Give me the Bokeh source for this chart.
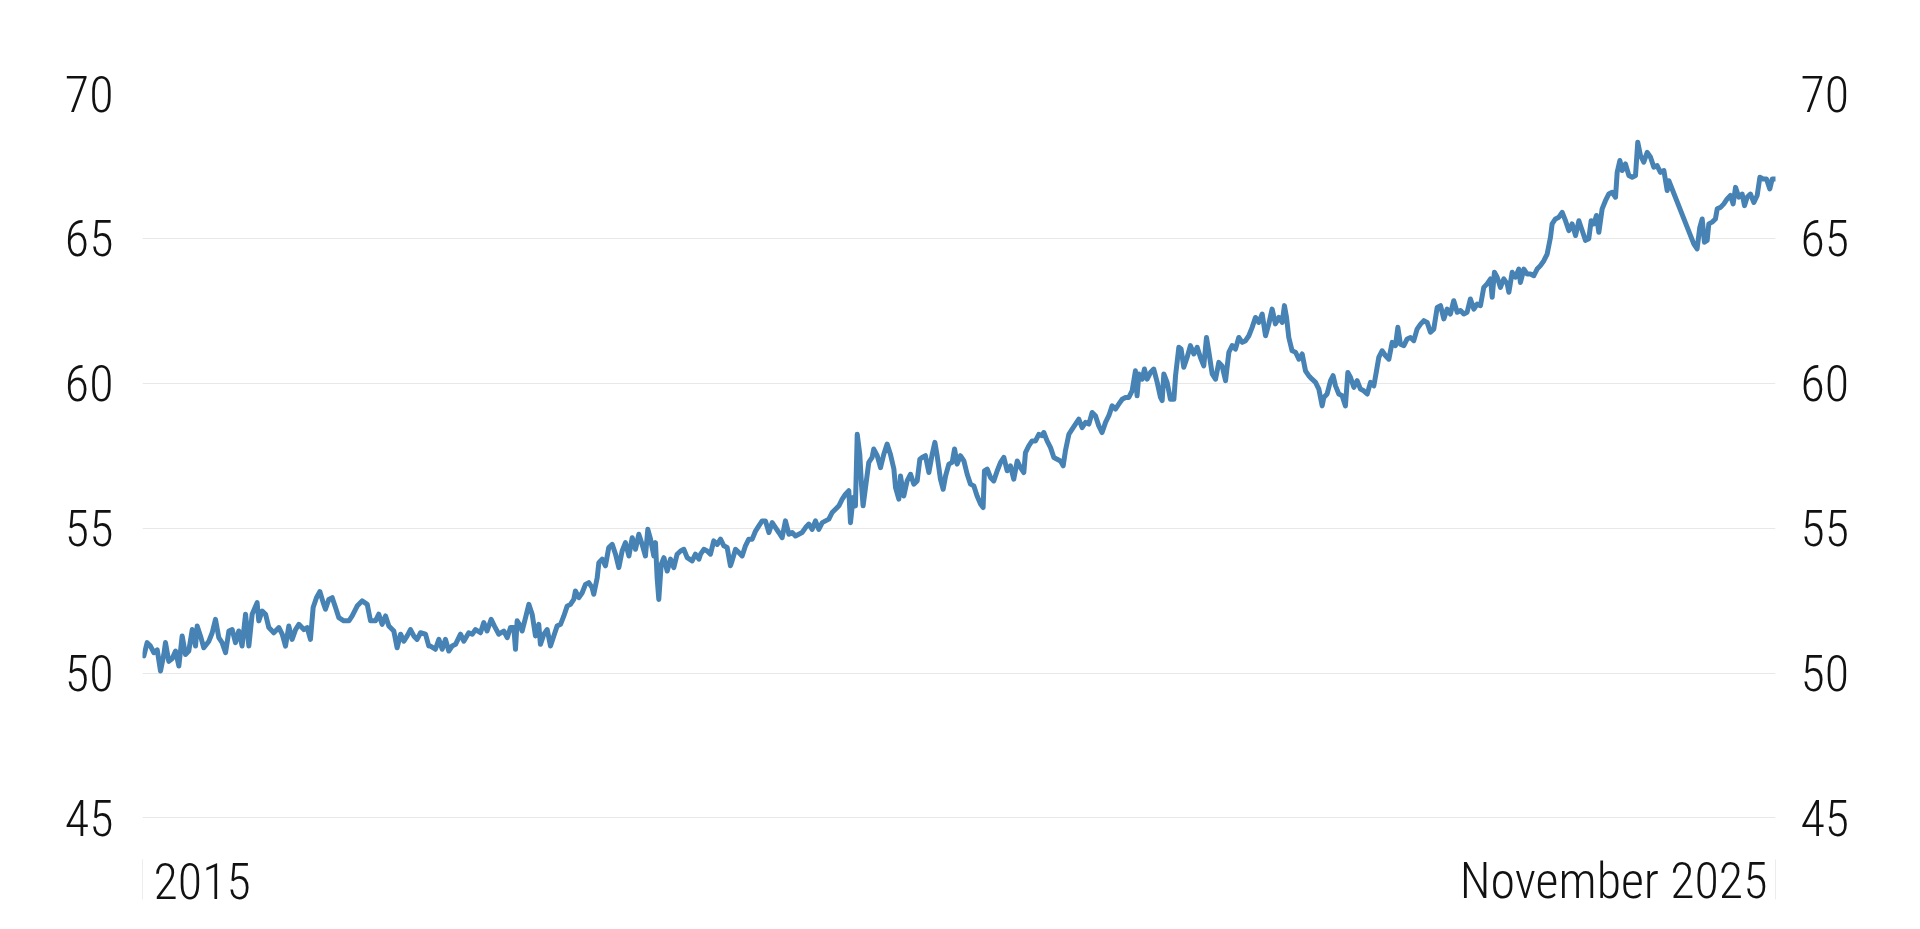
from bokeh.plotting import figure
from bokeh.models import Range1d, LinearAxis, FixedTicker
from bokeh.embed import file_html
from bokeh.resources import INLINE
from bokeh.core.properties import value

# decimal year of each reading and the index value
years = [
    2015.009, 2015.031, 2015.053, 2015.076, 2015.098, 2015.120, 2015.142, 2015.153, 2015.175, 2015.198,
    2015.220, 2015.242, 2015.264, 2015.286, 2015.308, 2015.331, 2015.353, 2015.364, 2015.386, 2015.408,
    2015.442, 2015.464, 2015.486, 2015.508, 2015.530, 2015.553, 2015.575, 2015.597, 2015.619, 2015.641,
    2015.663, 2015.686, 2015.708, 2015.730, 2015.763, 2015.774, 2015.797, 2015.819, 2015.841, 2015.874,
    2015.908, 2015.930, 2015.952, 2015.974, 2015.996, 2016.019, 2016.041, 2016.074, 2016.096, 2016.118,
    2016.136, 2016.158, 2016.181, 2016.203, 2016.218, 2016.240, 2016.263, 2016.285, 2016.307, 2016.340,
    2016.374, 2016.396, 2016.429, 2016.462, 2016.496, 2016.518, 2016.551, 2016.573, 2016.595, 2016.618,
    2016.640, 2016.673, 2016.695, 2016.718, 2016.740, 2016.762, 2016.784, 2016.806, 2016.828, 2016.851,
    2016.884, 2016.906,
    2016.917, 2016.950, 2016.973, 2016.995, 2017.017, 2017.039, 2017.061, 2017.084, 2017.117, 2017.139,
    2017.172, 2017.195, 2017.217, 2017.250, 2017.272, 2017.294, 2017.321, 2017.343, 2017.372, 2017.405,
    2017.428, 2017.450, 2017.472, 2017.483, 2017.494, 2017.516, 2017.527, 2017.550, 2017.572, 2017.594,
    2017.616, 2017.638, 2017.649, 2017.672, 2017.694, 2017.716, 2017.738, 2017.760, 2017.783, 2017.805,
    2017.827, 2017.849, 2017.871, 2017.882, 2017.905, 2017.927, 2017.949, 2017.971, 2017.993, 2018.004,
    2018.027,
    2018.038, 2018.060, 2018.082, 2018.104, 2018.127, 2018.149, 2018.171, 2018.193, 2018.215, 2018.238,
    2018.260, 2018.282, 2018.304, 2018.326, 2018.348, 2018.364, 2018.382, 2018.404, 2018.415, 2018.426,
    2018.437, 2018.453, 2018.471, 2018.493, 2018.515, 2018.537, 2018.559, 2018.582, 2018.604, 2018.626,
    2018.659, 2018.681, 2018.704,
    2018.715, 2018.737, 2018.759, 2018.781, 2018.803, 2018.826, 2018.848, 2018.870, 2018.892, 2018.914,
    2018.925, 2018.948, 2018.970, 2018.992, 2019.014, 2019.036, 2019.059, 2019.081, 2019.103, 2019.125,
    2019.147, 2019.170, 2019.192, 2019.214, 2019.236, 2019.258, 2019.280, 2019.303, 2019.325, 2019.347,
    2019.369, 2019.391, 2019.414, 2019.436, 2019.458, 2019.480, 2019.502, 2019.525, 2019.547, 2019.569,
    2019.591, 2019.613, 2019.636, 2019.658, 2019.680, 2019.702, 2019.713, 2019.731, 2019.746, 2019.758,
    2019.775, 2019.786, 2019.797, 2019.813, 2019.835, 2019.857, 2019.868, 2019.891, 2019.913, 2019.935,
    2019.957, 2019.979, 2020.002, 2020.013, 2020.035, 2020.046, 2020.068, 2020.090, 2020.113, 2020.135,
    2020.157, 2020.175, 2020.190, 2020.212, 2020.235, 2020.257, 2020.275, 2020.290, 2020.312, 2020.330,
    2020.346, 2020.368, 2020.390, 2020.406, 2020.423, 2020.445, 2020.468, 2020.490, 2020.512, 2020.534,
    2020.556, 2020.579, 2020.596, 2020.605, 2020.623, 2020.645, 2020.667, 2020.690, 2020.712,
    2020.734, 2020.756, 2020.778, 2020.800, 2020.823, 2020.845, 2020.867, 2020.878, 2020.900, 2020.922,
    2020.945, 2020.967, 2020.989, 2021.000, 2021.022, 2021.045, 2021.067, 2021.089, 2021.111, 2021.129,
    2021.144, 2021.167, 2021.189, 2021.211, 2021.233, 2021.255, 2021.278, 2021.300, 2021.322, 2021.344,
    2021.366, 2021.388, 2021.411, 2021.433, 2021.455, 2021.477, 2021.499, 2021.522, 2021.544, 2021.566,
    2021.588, 2021.610, 2021.621, 2021.633, 2021.655, 2021.670, 2021.688, 2021.710, 2021.732, 2021.755,
    2021.777, 2021.788, 2021.799, 2021.821, 2021.843, 2021.866, 2021.877, 2021.899, 2021.914, 2021.932,
    2021.954, 2021.976, 2021.999, 2022.021, 2022.043, 2022.065, 2022.083, 2022.099, 2022.121, 2022.143,
    2022.165, 2022.187, 2022.210, 2022.232, 2022.254, 2022.276, 2022.298, 2022.321, 2022.343, 2022.365,
    2022.387, 2022.409, 2022.431, 2022.454, 2022.476, 2022.498, 2022.520, 2022.542, 2022.565, 2022.587,
    2022.602, 2022.616, 2022.631, 2022.653, 2022.676, 2022.698,
    2022.720, 2022.742, 2022.764, 2022.786, 2022.809, 2022.831, 2022.853, 2022.864, 2022.886, 2022.909,
    2022.926, 2022.942, 2022.964, 2022.986, 2023.008, 2023.024, 2023.042, 2023.064, 2023.086, 2023.108,
    2023.130, 2023.153, 2023.175, 2023.197, 2023.215, 2023.230, 2023.252, 2023.275, 2023.297, 2023.319,
    2023.341, 2023.357, 2023.374, 2023.397, 2023.419, 2023.441, 2023.463, 2023.485, 2023.508, 2023.530,
    2023.552, 2023.574, 2023.596, 2023.619, 2023.641, 2023.663, 2023.685, 2023.707, 2023.729, 2023.752,
    2023.774, 2023.796, 2023.818, 2023.840, 2023.863, 2023.885, 2023.907, 2023.929, 2023.951, 2023.974,
    2023.985, 2024.000, 2024.018, 2024.040, 2024.062, 2024.085, 2024.096, 2024.118, 2024.140, 2024.162,
    2024.173, 2024.196, 2024.218, 2024.240, 2024.262, 2024.284, 2024.306,
    2024.329, 2024.351, 2024.373, 2024.384, 2024.406, 2024.429, 2024.451, 2024.473, 2024.495, 2024.517,
    2024.540, 2024.562, 2024.584, 2024.606, 2024.628, 2024.644, 2024.662, 2024.679, 2024.695, 2024.717,
    2024.739, 2024.761, 2024.784, 2024.806, 2024.817, 2024.835, 2024.850, 2024.872, 2024.895, 2024.917,
    2024.939, 2024.954, 2024.972, 2024.994, 2025.017, 2025.039, 2025.061, 2025.083, 2025.105, 2025.128,
    2025.150, 2025.161, 2025.327, 2025.349, 2025.367, 2025.383, 2025.398, 2025.416, 2025.427, 2025.449,
    2025.471, 2025.483, 2025.505, 2025.527, 2025.549, 2025.571, 2025.589, 2025.605, 2025.627, 2025.649,
    2025.665, 2025.682, 2025.704, 2025.727, 2025.749, 2025.767, 2025.789, 2025.811, 2025.833, 2025.849,
    2025.871,
]

index_values = [
    50.59, 51.05, 50.93, 50.70, 50.80, 50.07, 50.64, 51.05, 50.40, 50.50,
    50.76, 50.24, 51.28, 50.64, 50.76, 51.50, 50.93, 51.62, 51.28, 50.87,
    51.10, 51.39, 51.85, 51.22, 51.05, 50.70, 51.45, 51.50, 51.05, 51.45,
    50.93, 52.03, 50.93, 52.03, 52.43, 51.80, 52.14, 52.03, 51.57, 51.39,
    51.57, 51.34, 50.93, 51.62, 51.16, 51.50, 51.68, 51.50, 51.57, 51.16,
    52.26, 52.60, 52.81, 52.43, 52.20, 52.54, 52.60, 52.26, 51.91, 51.80,
    51.80, 51.97, 52.31, 52.49, 52.37, 51.80, 51.80, 52.03, 51.68, 51.97,
    51.62, 51.45, 50.87, 51.34, 51.10, 51.28, 51.50, 51.28, 51.16, 51.39,
    51.34, 50.93,
    50.93, 50.82, 51.16, 50.82, 51.16, 50.76, 50.93, 50.99, 51.34, 51.10,
    51.39, 51.34, 51.50, 51.39, 51.74, 51.45, 51.85, 51.62, 51.34, 51.45,
    51.22, 51.57, 51.57, 50.82, 51.80, 51.62, 51.45, 51.91, 52.37, 52.03,
    51.28, 51.68, 50.99, 51.34, 51.50, 50.93, 51.28, 51.62, 51.68, 51.97,
    52.31, 52.37, 52.54, 52.83, 52.60, 52.77, 53.06, 53.12, 52.95, 52.72,
    53.29,
    53.81, 53.93, 53.70, 54.33, 54.44, 54.10, 53.64, 54.21, 54.50, 54.04,
    54.67, 54.27, 54.79, 54.44, 54.04, 54.96, 54.62, 54.04, 54.50, 53.29,
    52.54, 53.75, 53.98, 53.52, 53.93, 53.64, 54.10, 54.21, 54.27, 53.98,
    53.87, 54.10, 53.93,
    54.10, 54.27, 54.21, 54.10, 54.56, 54.44, 54.62, 54.39, 54.33, 53.70,
    53.87, 54.27, 54.16, 54.04, 54.39, 54.62, 54.62, 54.90, 55.08, 55.25,
    55.25, 54.85, 55.19, 55.02, 54.85, 54.67, 55.25, 54.79, 54.85, 54.73,
    54.79, 54.85, 55.02, 55.14, 54.96, 55.25, 54.96, 55.19, 55.25, 55.31,
    55.54, 55.65, 55.77, 56.00, 56.17, 56.29, 55.19, 56.06, 55.77, 58.24,
    57.55, 56.52, 55.77, 56.40, 57.27, 57.44, 57.73, 57.50, 57.09, 57.55,
    57.90, 57.55, 57.04, 56.40, 56.00, 56.80, 56.11, 56.63, 56.86, 56.52,
    56.63, 57.38, 57.44, 57.50, 56.92, 57.55, 57.96, 57.50, 56.69, 56.34,
    56.80, 57.21, 57.27, 57.73, 57.21, 57.50, 57.32, 56.86, 56.52, 56.46,
    56.11, 55.83, 55.71, 56.98, 57.04, 56.75, 56.63, 56.98, 57.27,
    57.44, 56.98, 57.15, 56.69, 57.32, 57.09, 56.92, 57.61, 57.84, 58.01,
    58.01, 58.24, 58.19, 58.30, 58.01, 57.78, 57.44, 57.38, 57.32, 57.15,
    57.67, 58.24, 58.42, 58.59, 58.76, 58.47, 58.65, 58.59, 58.99, 58.88,
    58.53, 58.30, 58.65, 58.88, 59.22, 59.11, 59.28, 59.45, 59.51, 59.51,
    59.74, 60.43, 59.57, 60.32, 60.14, 60.49, 60.14, 60.37, 60.49, 60.03,
    59.51, 59.40, 60.32, 60.03, 59.45, 59.45, 60.26, 61.24, 61.18, 60.55,
    60.89, 61.30, 61.01, 61.24, 60.89, 60.60, 61.58, 61.07, 60.32, 60.14,
    60.72, 60.60, 60.09, 61.07, 61.30, 61.18, 61.58, 61.41, 61.47, 61.64,
    61.93, 62.27, 62.10, 62.39, 61.64, 62.05, 62.56, 62.05, 62.27, 62.10,
    62.68, 62.27, 61.58, 61.12, 61.07, 60.83,
    61.01, 60.43, 60.26, 60.14, 60.03, 59.80, 59.22, 59.51, 59.63, 60.09,
    60.26, 59.91, 59.63, 59.57, 59.22, 60.37, 60.20, 59.86, 60.09, 59.80,
    59.74, 59.63, 60.03, 59.91, 60.43, 60.89, 61.12, 60.95, 60.83, 61.41,
    61.30, 61.93, 61.35, 61.30, 61.53, 61.58, 61.47, 61.87, 62.04, 62.16,
    62.10, 61.76, 61.87, 62.62, 62.68, 62.22, 62.56, 62.39, 62.85, 62.45,
    62.51, 62.39, 62.45, 62.91, 62.56, 62.73, 62.68, 63.31, 63.43, 63.60,
    62.97, 63.83, 63.66, 63.31, 63.60, 63.43, 63.14, 63.83, 63.66, 63.94,
    63.48, 63.94, 63.77, 63.77, 63.71, 63.94, 64.06,
    64.23, 64.46, 65.04, 65.50, 65.67, 65.73, 65.90, 65.61, 65.27, 65.50,
    65.10, 65.61, 65.27, 64.93, 64.99, 65.61, 65.50, 65.79, 65.21, 66.02,
    66.30, 66.53, 66.59, 66.42, 67.28, 67.69, 67.34, 67.57, 67.17, 67.11,
    67.17, 68.32, 67.86, 67.63, 67.97, 67.80, 67.46, 67.51, 67.28, 67.34,
    66.65, 66.99, 64.81, 64.64, 65.38, 65.67, 64.87, 64.93, 65.50, 65.56,
    65.67, 66.02, 66.07, 66.19, 66.36, 66.48, 66.19, 66.76, 66.42, 66.53,
    66.13, 66.42, 66.53, 66.24, 66.48, 67.11, 67.05, 67.05, 66.71, 67.05,
    67.05,
]

y_ticks = [45, 50, 55, 60, 65, 70]
x_ticks = [2015.0, 2025.871]
x_tick_labels = ["2015", "November 2025"]

FONT = "Roboto Condensed Light, Roboto Light, Roboto"
TEXT = "#111111"

p = figure(width=1904, height=913, output_backend="svg", toolbar_location=None,
           x_range=Range1d(x_ticks[0], x_ticks[1]), y_range=Range1d(41.77, 70),
           x_axis_location=None,
           min_border_left=142, min_border_right=129, min_border_top=93, min_border_bottom=2)
p.outline_line_color = None
p.background_fill_color = "white"
p.border_fill_color = "white"
p.xgrid.grid_line_color = None
p.ygrid.ticker = FixedTicker(ticks=y_ticks)
p.ygrid.grid_line_color = "#e8e8e8"
p.ygrid.grid_line_width = 1

# same labels on both sides
right_axis = LinearAxis()
p.add_layout(right_axis, "right")
for ax, standoff in ((p.yaxis[0], 29), (right_axis, 25)):
    ax.ticker = FixedTicker(ticks=y_ticks)
    ax.axis_line_color = None
    ax.major_tick_line_color = None
    ax.minor_tick_line_color = None
    ax.major_tick_out = 0
    ax.major_tick_in = 0
    ax.major_label_standoff = standoff
    ax.major_label_text_font = FONT
    ax.major_label_text_font_size = "50px"
    ax.major_label_text_color = TEXT

p.line(years, index_values, line_color="#4682b4", line_width=5,
       line_join="round", line_cap="round")

# little separators and the two date labels under the 45 line
p.segment(x0=x_ticks, x1=x_ticks, y0=[43.57, 43.57], y1=[42.19, 42.19],
          line_color="#dcdcdc", line_width=1)
p.text(x=[x_ticks[0]], y=[42.81], text=[x_tick_labels[0]], x_offset=11,
       text_align="left", text_baseline="middle", text_font=value(FONT),
       text_font_size="50px", text_color=TEXT)
p.text(x=[x_ticks[1]], y=[42.81], text=[x_tick_labels[1]], x_offset=-8,
       text_align="right", text_baseline="middle", text_font=value(FONT),
       text_font_size="50px", text_color=TEXT)

open("out.html", "w").write(file_html(p, INLINE))
